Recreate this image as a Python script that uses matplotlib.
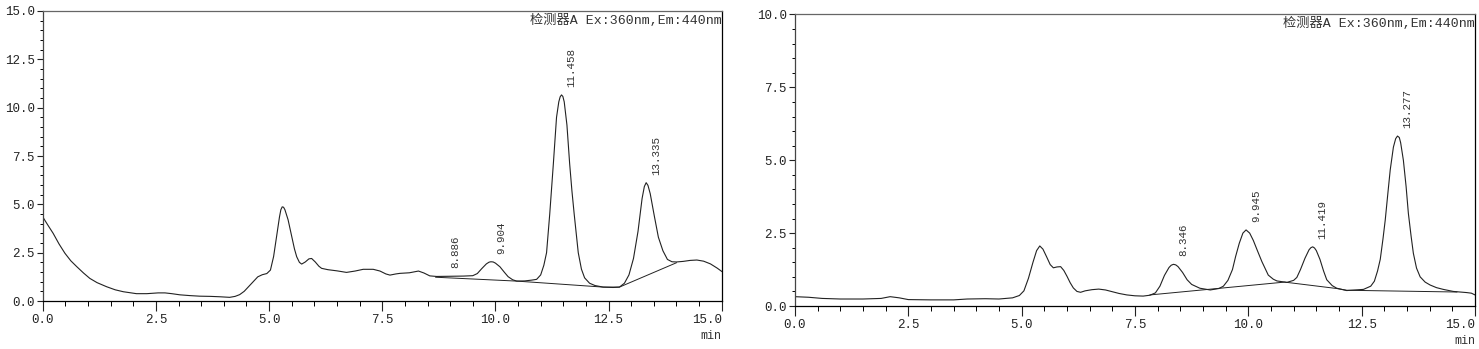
import numpy as np
import matplotlib
matplotlib.use("Agg")
import matplotlib.pyplot as plt
from matplotlib.ticker import MultipleLocator

plt.rcParams['font.family'] = ['Liberation Mono', 'Noto Sans CJK SC', 'DejaVu Sans']

# left chromatogram (time in min, signal)
left_t = [0.0, 0.12, 0.23, 0.36, 0.49, 0.62, 0.75, 0.9, 1.04, 1.2, 1.41, 1.6, 1.78, 2.07,
          2.3, 2.55, 2.7, 2.85, 3.03, 3.25, 3.47, 3.7, 3.91, 4.13, 4.25, 4.35, 4.45, 4.55,
          4.65, 4.75, 4.85, 4.95, 5.03, 5.1, 5.17, 5.23, 5.26, 5.29, 5.32, 5.35, 5.42, 5.5, 5.56, 5.61,
          5.67, 5.72, 5.8, 5.88, 5.94, 6.02, 6.1, 6.16, 6.3, 6.5, 6.71, 6.9, 7.08, 7.3, 7.45,
          7.58, 7.67, 7.8, 7.89, 8.1, 8.3, 8.42, 8.55, 8.7, 9.0, 9.3, 9.5, 9.6, 9.7, 9.8, 9.86, 9.9,
          9.95, 10.0, 10.1, 10.2, 10.28, 10.38, 10.47, 10.65, 10.8, 10.91, 11.0, 11.07, 11.13, 11.2,
          11.28, 11.35, 11.4, 11.43, 11.46, 11.49, 11.52, 11.58, 11.64, 11.69, 11.74, 11.83, 11.9, 11.97,
          12.08, 12.2, 12.38, 12.6, 12.74, 12.85, 12.95, 13.05, 13.15, 13.24, 13.29, 13.33, 13.37, 13.42,
          13.51, 13.6, 13.7, 13.8, 13.9, 14.0, 14.15, 14.3, 14.45, 14.6, 14.75, 14.9, 15.0]
left_v = [4.35, 3.90, 3.50, 2.95, 2.47, 2.08, 1.78, 1.45, 1.17, 0.95, 0.74, 0.58, 0.48, 0.38,
          0.38, 0.42, 0.42, 0.38, 0.32, 0.28, 0.25, 0.24, 0.22, 0.19, 0.24, 0.33, 0.50, 0.75,
          1.00, 1.25, 1.36, 1.42, 1.60, 2.3, 3.4, 4.35, 4.72, 4.87, 4.85, 4.72, 4.2, 3.33, 2.7, 2.29,
          2.00, 1.91, 2.02, 2.18, 2.20, 2.02, 1.80, 1.69, 1.62, 1.56, 1.48, 1.55, 1.64, 1.64, 1.55,
          1.40, 1.34, 1.40, 1.43, 1.46, 1.55, 1.45, 1.30, 1.27, 1.28, 1.29, 1.31, 1.42, 1.68, 1.92, 2.01, 2.03,
          2.02, 1.96, 1.77, 1.48, 1.26, 1.10, 1.03, 1.04, 1.08, 1.12, 1.35, 1.85, 2.5, 4.5,
          7.1, 9.5, 10.3, 10.56, 10.66, 10.58, 10.3, 9.1, 7.1, 5.7, 4.5, 2.5, 1.65, 1.2,
          0.92, 0.80, 0.72, 0.70, 0.72, 0.92, 1.35, 2.2, 3.6, 5.3, 5.92, 6.12, 5.98, 5.55,
          4.4, 3.3, 2.6, 2.15, 2.03, 2.02, 2.05, 2.10, 2.12, 2.06, 1.92, 1.70, 1.53]
left_base_t = [8.68, 10.47, 12.38, 12.74, 14.0]
left_base_v = [1.23, 1.03, 0.72, 0.72, 1.98]
left_peak_rt = [8.886, 9.904, 11.458, 13.335]
left_peak_h = [1.28, 2.03, 10.66, 6.12]
left_peak_lbl = ['8.886', '9.904', '11.458', '13.335']

# right chromatogram
right_t = [0.0, 0.3, 0.6, 1.0, 1.5, 1.9, 2.1, 2.3, 2.5, 3.0, 3.5, 3.8, 4.2, 4.5, 4.8, 4.95,
           5.05, 5.15, 5.25, 5.33, 5.40, 5.47, 5.55, 5.63, 5.70, 5.78, 5.86, 5.93, 6.0, 6.07,
           6.14, 6.22, 6.30, 6.40, 6.55, 6.70, 6.85, 7.0, 7.15, 7.32, 7.5, 7.68, 7.83, 7.95,
           8.05, 8.15, 8.25, 8.30, 8.35, 8.40, 8.45, 8.55, 8.65, 8.75, 8.93, 9.16, 9.35, 9.45, 9.55, 9.65,
           9.72, 9.80, 9.88, 9.95, 10.03, 10.11, 10.2, 10.3, 10.44, 10.55, 10.63, 10.85, 11.0,
           11.07, 11.15, 11.25, 11.34, 11.38, 11.42, 11.46, 11.50, 11.58, 11.66, 11.73, 11.85, 11.95, 12.17,
           12.54, 12.70, 12.78, 12.85, 12.91, 12.97, 13.02, 13.08, 13.13, 13.2, 13.25, 13.29, 13.33, 13.36,
           13.42, 13.48, 13.53, 13.59, 13.64, 13.71, 13.79, 13.9, 14.01, 14.15, 14.30, 14.52,
           14.82, 14.92, 15.0]
right_v = [0.32, 0.30, 0.26, 0.24, 0.24, 0.26, 0.32, 0.28, 0.22, 0.21, 0.21, 0.24, 0.25, 0.24, 0.28, 0.36,
           0.52, 0.95, 1.50, 1.90, 2.06, 1.95, 1.69, 1.42, 1.31, 1.34, 1.35, 1.22, 1.02, 0.80,
           0.62, 0.50, 0.47, 0.52, 0.56, 0.58, 0.55, 0.49, 0.43, 0.38, 0.35, 0.34, 0.37, 0.45,
           0.68, 1.05, 1.32, 1.40, 1.43, 1.41, 1.35, 1.15, 0.90, 0.74, 0.61, 0.55, 0.60, 0.68, 0.88, 1.25,
           1.70, 2.15, 2.50, 2.61, 2.50, 2.25, 1.90, 1.52, 1.06, 0.92, 0.86, 0.81, 0.88,
           0.98, 1.25, 1.64, 1.93, 2.00, 2.03, 1.99, 1.90, 1.60, 1.20, 0.90, 0.70, 0.61, 0.53,
           0.57, 0.68, 0.85, 1.20, 1.60, 2.30, 2.95, 3.90, 4.67, 5.45, 5.74, 5.83, 5.78, 5.60,
           5.0, 4.1, 3.18, 2.40, 1.81, 1.30, 1.00, 0.82, 0.72, 0.63, 0.57, 0.50,
           0.46, 0.44, 0.38]
right_base_t = [7.83, 10.8, 11.95, 12.17, 14.6]
right_base_v = [0.38, 0.82, 0.60, 0.54, 0.48]
right_peak_rt = [8.346, 9.945, 11.419, 13.277]
right_peak_h = [1.43, 2.61, 2.03, 5.83]
right_peak_lbl = ['8.346', '9.945', '11.419', '13.277']

x_ticks = [0.0, 2.5, 5.0, 7.5, 10.0, 12.5, 15.0]
x_tick_labels = ['0.0', '2.5', '5.0', '7.5', '10.0', '12.5', '15.0']
left_y_ticks = [0.0, 2.5, 5.0, 7.5, 10.0, 12.5, 15.0]
left_y_tick_labels = ['0.0', '2.5', '5.0', '7.5', '10.0', '12.5', '15.0']
right_y_ticks = [0.0, 2.5, 5.0, 7.5, 10.0]
right_y_tick_labels = ['0.0', '2.5', '5.0', '7.5', '10.0']

header = '检测器A Ex:360nm,Em:440nm'

fig = plt.figure(figsize=(14.79, 3.49), dpi=100)
ax1 = fig.add_axes([0.0289, 0.1375, 0.4591, 0.831])
ax2 = fig.add_axes([0.5375, 0.1232, 0.4598, 0.8353])

panels = [
    (ax1, left_t, left_v, left_base_t, left_base_v, left_peak_rt, left_peak_h, left_peak_lbl,
     left_y_ticks, left_y_tick_labels),
    (ax2, right_t, right_v, right_base_t, right_base_v, right_peak_rt, right_peak_h, right_peak_lbl,
     right_y_ticks, right_y_tick_labels),
]

for ax, t, v, bt, bv, rt, ph, lbl, yt, ytl in panels:
    ax.plot(t, v, color='#222222', lw=0.8)
    ax.plot(bt, bv, color='#222222', lw=0.7)
    for r, h, s in zip(rt, ph, lbl):
        ax.annotate(s, xy=(r, h), xytext=(10, 8), textcoords='offset pixels',
                    rotation=90, ha='center', va='bottom', fontsize=7.8, color='#333333')
    ax.set_xlim(0, 15)
    ax.set_ylim(yt[0], yt[-1])
    ax.set_xticks(x_ticks, x_tick_labels)
    ax.set_yticks(yt, ytl)
    ax.xaxis.set_minor_locator(MultipleLocator(0.5))
    ax.yaxis.set_minor_locator(MultipleLocator(0.5))
    ax.get_xticklabels()[-1].set_horizontalalignment('right')
    ax.tick_params(axis='x', which='major', direction='out', length=7, width=0.8, pad=2.5,
                   labelsize=9, colors='#222222')
    ax.tick_params(axis='x', which='minor', direction='out', length=3.5, width=0.7)
    ax.tick_params(axis='y', which='major', direction='out', length=4.3, width=0.8, pad=1.5,
                   labelsize=9, colors='#222222')
    ax.tick_params(axis='y', which='minor', direction='out', length=2.2, width=0.7)
    ax.spines['top'].set_color('#666666')
    ax.spines['left'].set_color('#444444')
    ax.spines['bottom'].set_color('black')
    ax.spines['right'].set_color('black')
    for sp in ax.spines.values():
        sp.set_linewidth(0.9)
    ax.text(1.0, 0.99, header, transform=ax.transAxes, ha='right', va='top',
            fontsize=9.5, color='#333333')
    ax.text(1.0, -0.1, 'min', transform=ax.transAxes, ha='right', va='top',
            fontsize=8.5, color='#333333')

fig.savefig('out.png', dpi=100)
